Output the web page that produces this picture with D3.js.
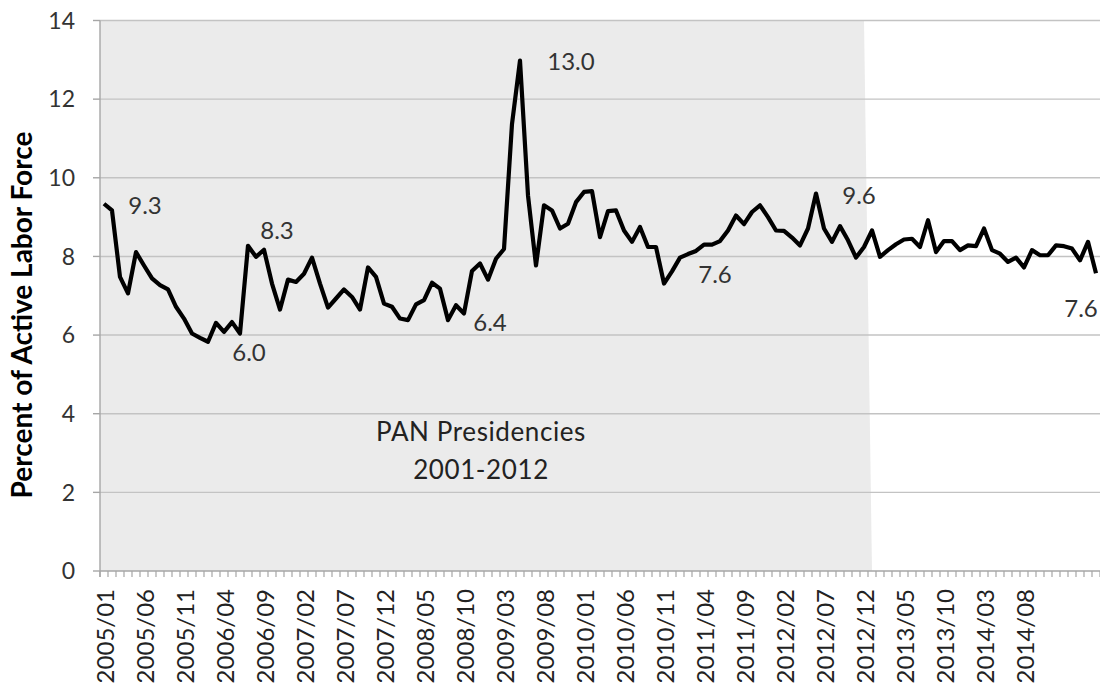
<!DOCTYPE html>
<html>
<head>
<meta charset="utf-8">
<script src="https://cdn.jsdelivr.net/npm/d3@7"></script>
<style>
  html, body { margin: 0; padding: 0; background: #fff; }
  svg { display: block; font-family: Lato, "Open Sans", sans-serif; }
</style>
</head>
<body>
<svg id="chart" width="1100" height="687"></svg>
<script>
// ---------------- data ----------------
const startMonth = "2005/01";
const unemploymentRate = [
  9.34, 9.17, 7.48, 7.06, 8.11, 7.77, 7.44, 7.27, 7.16, 6.72,
  6.42, 6.04, 5.93, 5.83, 6.31, 6.08, 6.33, 6.04, 8.27, 7.99,
  8.17, 7.31, 6.65, 7.41, 7.35, 7.56, 7.97, 7.31, 6.70, 6.93,
  7.16, 6.97, 6.65, 7.72, 7.48, 6.80, 6.72, 6.42, 6.38, 6.78,
  6.89, 7.33, 7.18, 6.38, 6.76, 6.55, 7.63, 7.82, 7.41, 7.94,
  8.19, 11.37, 12.98, 9.55, 7.77, 9.30, 9.17, 8.71, 8.83, 9.38,
  9.64, 9.66, 8.49, 9.15, 9.17, 8.66, 8.37, 8.75, 8.24, 8.24,
  7.31, 7.62, 7.97, 8.06, 8.14, 8.30, 8.30, 8.39, 8.66, 9.04,
  8.82, 9.13, 9.30, 9.00, 8.66, 8.65, 8.48, 8.28, 8.71, 9.60,
  8.71, 8.37, 8.77, 8.41, 7.97, 8.24, 8.66, 7.99, 8.16, 8.31,
  8.43, 8.45, 8.24, 8.92, 8.11, 8.39, 8.39, 8.16, 8.28, 8.26,
  8.71, 8.16, 8.07, 7.86, 7.97, 7.72, 8.16, 8.03, 8.03, 8.28,
  8.26, 8.20, 7.90, 8.37, 7.57
];
const tickLabels = [
  "2005/01","2005/06","2005/11","2006/04","2006/09","2007/02","2007/07","2007/12",
  "2008/05","2008/10","2009/03","2009/08","2010/01","2010/06","2010/11","2011/04",
  "2011/09","2012/02","2012/07","2012/12","2013/05","2013/10","2014/03","2014/08"
];
const yTicks = [0, 2, 4, 6, 8, 10, 12, 14];
const labeledMonths = ["2005/01","2006/07","2006/06","2008/08","2009/05","2010/12","2012/06","2015/05"];
const panPeriod = ["2005/01", "2012/12"];
const panText = ["PAN Presidencies", "2001-2012"];
const yTitle = "Percent of Active Labor Force";

// month categories
const [sy, sm] = startMonth.split("/").map(Number);
const months = unemploymentRate.map((_, i) => {
  const t = (sy * 12 + sm - 1) + i;
  return Math.floor(t / 12) + "/" + String(t % 12 + 1).padStart(2, "0");
});
const series = months.map((m, i) => ({ month: m, value: unemploymentRate[i] }));

// ---------------- layout ----------------
const plot = { left: 100, right: 1100, top: 20.5, bottom: 571 };
const svg = d3.select("#chart");

const x = d3.scalePoint().domain(months).range([plot.left, plot.right]).padding(0.5);
const step = x.step();
const y = d3.scaleLinear().domain([0, 14]).range([plot.bottom, plot.top]);

// PAN shading (area series)
const panEndX = x(panPeriod[1]);
const shade = d3.area()
  .x(d => d[0]).y0(y(0)).y1(d => d[1]);
svg.append("path")
  .attr("d", shade([[plot.left, y(14)], [panEndX, y(14)], [panEndX + step, y(0)]]))
  .attr("fill", "#ebebeb");

// gridlines
svg.append("g").selectAll("line").data(yTicks.filter(d => d > 0)).join("line")
  .attr("x1", plot.left).attr("x2", plot.right)
  .attr("y1", d => y(d)).attr("y2", d => y(d))
  .attr("stroke", "#c3c3c3").attr("stroke-width", 1.4);

// y axis
svg.append("line")
  .attr("x1", plot.left).attr("x2", plot.left)
  .attr("y1", y(14)).attr("y2", plot.bottom + 6)
  .attr("stroke", "#a6a6a6").attr("stroke-width", 1.4);
svg.append("g").selectAll("line").data(yTicks).join("line")
  .attr("x1", plot.left - 7).attr("x2", plot.left)
  .attr("y1", d => y(d)).attr("y2", d => y(d))
  .attr("stroke", "#a6a6a6").attr("stroke-width", 1.4);
svg.append("g").selectAll("text").data(yTicks).join("text")
  .attr("x", 75).attr("y", d => y(d)).attr("dy", "0.36em")
  .attr("text-anchor", "end").attr("fill", "#333")
  .style("font-size", "23px").text(d => d);

// x axis
svg.append("line")
  .attr("x1", plot.left).attr("x2", plot.right)
  .attr("y1", plot.bottom).attr("y2", plot.bottom)
  .attr("stroke", "#a6a6a6").attr("stroke-width", 1.4);
svg.append("g").selectAll("line").data(d3.range(months.length + 1)).join("line")
  .attr("x1", k => plot.left + k * step).attr("x2", k => plot.left + k * step)
  .attr("y1", plot.bottom).attr("y2", plot.bottom + 6)
  .attr("stroke", "#a6a6a6").attr("stroke-width", 1.2);
svg.append("g").selectAll("text").data(tickLabels).join("text")
  .attr("transform", d => `translate(${x(d) + 1.5},589) rotate(-90)`)
  .attr("dy", "0.36em").attr("text-anchor", "end").attr("fill", "#222")
  .style("font-size", "24px").text(d => d);

// y title
svg.append("text")
  .attr("transform", `translate(32,315) rotate(-90)`)
  .attr("text-anchor", "middle").attr("fill", "#000")
  .style("font-size", "28px").style("font-weight", "bold").text(yTitle);

// PAN annotation
const panCenter = 481;
svg.append("text").attr("x", panCenter).attr("y", 441).attr("text-anchor", "middle")
  .attr("fill", "#222").style("font-size", "26px").style("letter-spacing", "0.6px").text(panText[0]);
svg.append("text").attr("x", panCenter).attr("y", 479).attr("text-anchor", "middle")
  .attr("fill", "#222").style("font-size", "26px").style("letter-spacing", "0.6px").text(panText[1]);

// line
const line = d3.line().x(d => x(d.month)).y(d => y(d.value)).curve(d3.curveLinear);
svg.append("path").datum(series)
  .attr("d", line).attr("fill", "none")
  .attr("stroke", "#000").attr("stroke-width", 4.2)
  .attr("stroke-linejoin", "round");

// data labels (manual placement offsets, in px from point)
const labelOffsets = [[41, 2], [29, -15], [9, 19], [42, 2], [51, 1], [43, 3], [43, 2], [-15, 35]];
const fmt = d3.format(".1f");
svg.append("g").selectAll("text").data(labeledMonths).join("text")
  .attr("x", (m, i) => x(m) + labelOffsets[i][0])
  .attr("y", (m, i) => y(unemploymentRate[months.indexOf(m)]) + labelOffsets[i][1])
  .attr("dy", "0.36em").attr("text-anchor", "middle").attr("fill", "#333")
  .style("font-size", "24px")
  .text(m => fmt(unemploymentRate[months.indexOf(m)]));
</script>
</body>
</html>
